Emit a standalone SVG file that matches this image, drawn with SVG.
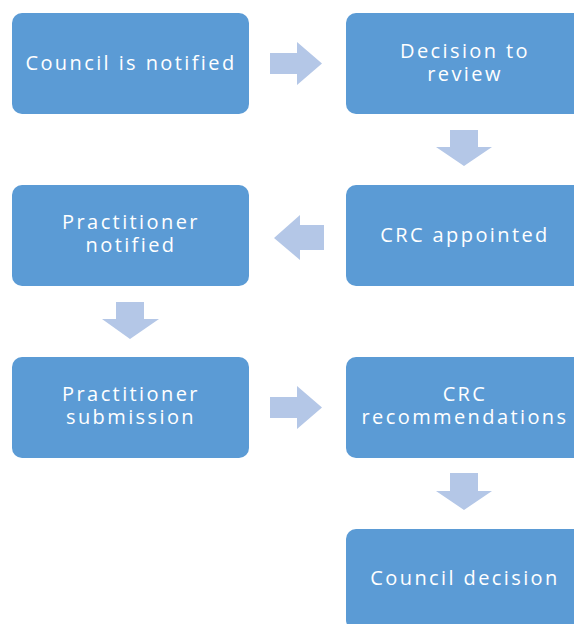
<svg xmlns="http://www.w3.org/2000/svg" width="574" height="624" viewBox="0 0 574 624">
  <style>
    .box { fill: #5B9BD5; }
    .arrow { fill: #B4C7E7; }
    .label { fill: #FFFFFF; font-family: "Open Sans", "DejaVu Sans", sans-serif; font-size: 20px; letter-spacing: 2.4px; text-anchor: middle; }
  </style>
  <rect width="574" height="624" fill="#FFFFFF"/>

  <g id="connectors">
    <!-- right: council notified -> decision -->
    <polygon class="arrow" points="270,53 297,53 297,42 322,63.5 297,85 297,74 270,74"/>
    <!-- down: decision -> CRC appointed -->
    <polygon class="arrow" points="450,130 478,130 478,147 492,147 464,166 436,147 450,147"/>
    <!-- left: CRC appointed -> practitioner notified -->
    <polygon class="arrow" points="324,225 300,225 300,215 274,238 300,260 300,250 324,250"/>
    <!-- down: practitioner notified -> submission -->
    <polygon class="arrow" points="116,302 144,302 144,319 159,319 130,339 102,319 116,319"/>
    <!-- right: submission -> recommendations -->
    <polygon class="arrow" points="270,397 297,397 297,386 322,407.5 297,429 297,418 270,418"/>
    <!-- down: recommendations -> council decision -->
    <polygon class="arrow" points="450,473 478,473 478,491 492,491 464,510 436,491 450,491"/>
  </g>

  <g id="council-notified">
    <rect class="box" x="12" y="13" width="237" height="101" rx="10"/>
    <text class="label" x="131" y="70">Council is notified</text>
  </g>

  <g id="decision-to-review">
    <rect class="box" x="346" y="13" width="237" height="101" rx="10"/>
    <text class="label" x="465" y="58">Decision to</text>
    <text class="label" x="465" y="81">review</text>
  </g>

  <g id="crc-appointed">
    <rect class="box" x="346" y="185" width="237" height="101" rx="10"/>
    <text class="label" x="465" y="242">CRC appointed</text>
  </g>

  <g id="practitioner-notified">
    <rect class="box" x="12" y="185" width="237" height="101" rx="10"/>
    <text class="label" x="131" y="229">Practitioner</text>
    <text class="label" x="131" y="252">notified</text>
  </g>

  <g id="practitioner-submission">
    <rect class="box" x="12" y="357" width="237" height="101" rx="10"/>
    <text class="label" x="131" y="401">Practitioner</text>
    <text class="label" x="131" y="424">submission</text>
  </g>

  <g id="crc-recommendations">
    <rect class="box" x="346" y="357" width="237" height="101" rx="10"/>
    <text class="label" x="465" y="401">CRC</text>
    <text class="label" x="465" y="424">recommendations</text>
  </g>

  <g id="council-decision">
    <rect class="box" x="346" y="529" width="237" height="101" rx="10"/>
    <text class="label" x="465" y="585">Council decision</text>
  </g>
</svg>
